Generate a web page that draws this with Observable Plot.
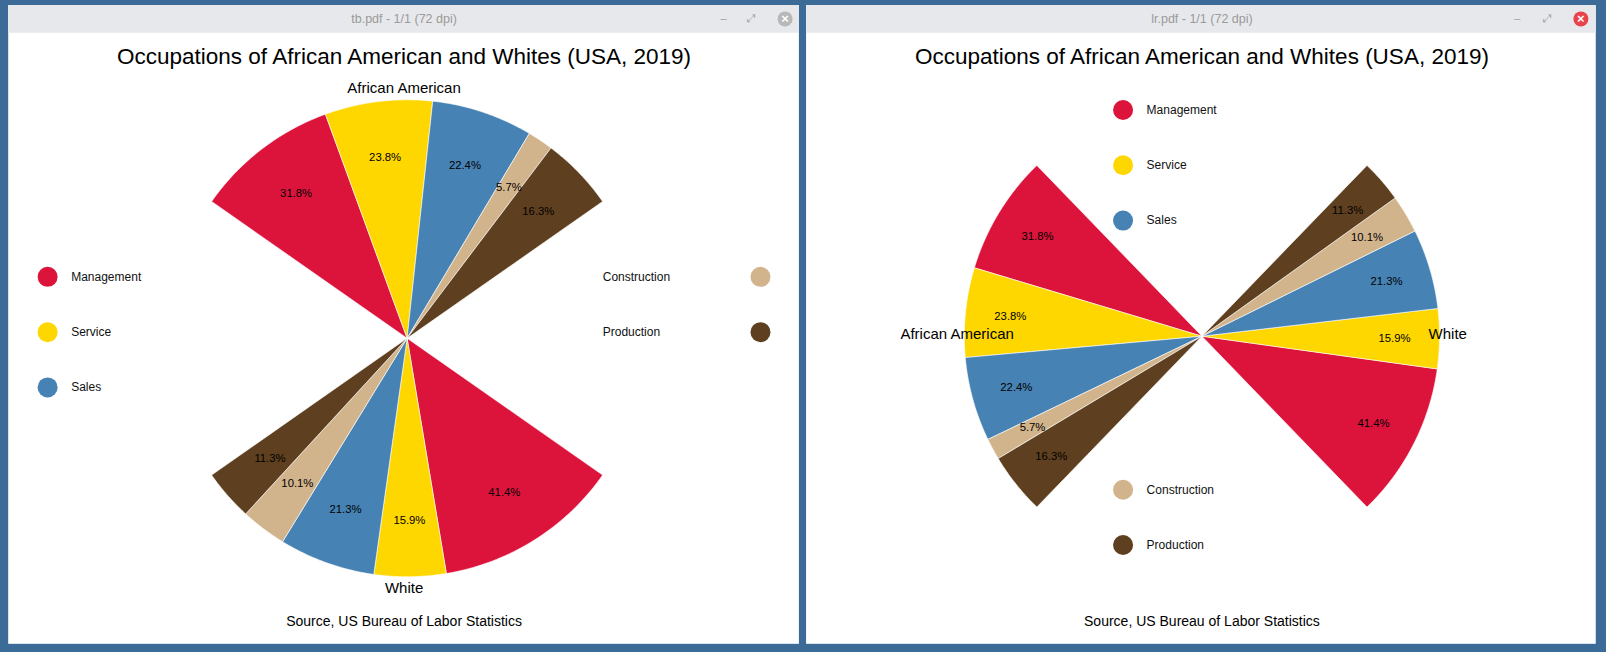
<!DOCTYPE html>
<html><head><meta charset="utf-8">
<script src="https://cdn.jsdelivr.net/npm/d3@7"></script>
<script src="https://cdn.jsdelivr.net/npm/@observablehq/plot@0.6"></script>
<style>body{margin:0;background:#3d6b98;overflow:hidden}</style>
</head><body><div id="chart"></div>
<script>
const categories = ["Management","Service","Sales","Construction","Production"];
const colors = ["#DC143C","#FFD700","#4682B4","#D2B48C","#5E3F1F"];
const aaValues = [31.8,23.8,22.4,5.7,16.3];
const whiteValues = [41.4,15.9,21.3,10.1,11.3];
const title = "Occupations of African American and Whites (USA, 2019)";
const source = "Source, US Bureau of Labor Statistics";

const rad = Math.PI/180;
// build wedges: start angle (deg clockwise from up), direction, span
function wedges(vals, cx, cy, R, start, dir, span, lr, tag){
  const polys = [], labels = [];
  let acc = 0;
  vals.forEach((v,i)=>{
    const a0 = start + dir*acc/100*span, a1 = start + dir*(acc+v)/100*span;
    const pts = [{x:cx,y:cy}];
    const n = 40;
    for(let k=0;k<=n;k++){const a=(a0+(a1-a0)*k/n)*rad; pts.push({x:cx+R*Math.sin(a), y:cy-R*Math.cos(a)});}
    pts.push({x:cx,y:cy});
    pts.forEach(p=>polys.push({...p, id:tag+i, c:colors[i]}));
    const am = (a0+a1)/2*rad;
    labels.push({x:cx+lr*Math.sin(am), y:cy-lr*Math.cos(am), t:v.toFixed(1)+"%"});
    acc += v;
  });
  return {polys, labels};
}
const L1 = wedges(aaValues, 397, 330, 233, -55, 1, 110, 178, "la");
const L2 = wedges(whiteValues, 397, 330, 233, 125, 1, 110, 178, "lw");
const R1 = wedges(aaValues, 1173, 328, 232, -44, -1, 92, 188, "ra");
const R2 = wedges(whiteValues, 1173, 328, 232, 136, -1, 92, 188, "rw");
const polys = [...L1.polys, ...L2.polys, ...R1.polys, ...R2.polys];
const pctLabels = [...L1.labels, ...L2.labels, ...R1.labels, ...R2.labels];

const windows = [{x1:8,x2:780,y1:5,y2:629},{x1:787,x2:1558,y1:5,y2:629}];
const bars = windows.map(w=>({...w, y2:32}));
const winTitles = [{x:394,y:18,t:"tb.pdf - 1/1 (72 dpi)"},{x:1173,y:18,t:"lr.pdf - 1/1 (72 dpi)"}];
const legend = [
  {x:46,y:270,i:0,tx:69,a:"start"},{x:46,y:324,i:1,tx:69,a:"start"},{x:46,y:378,i:2,tx:69,a:"start"},
  {x:742,y:270,i:3,tx:588,a:"start"},{x:742,y:324,i:4,tx:588,a:"start"},
  {x:1096,y:107,i:0,tx:1119,a:"start"},{x:1096,y:161,i:1,tx:1119,a:"start"},{x:1096,y:215,i:2,tx:1119,a:"start"},
  {x:1096,y:478,i:3,tx:1119,a:"start"},{x:1096,y:532,i:4,tx:1119,a:"start"}
];
const groupLabels = [
  {x:394,y:86,t:"African American",a:"middle"},{x:394,y:574,t:"White",a:"middle"},
  {x:934,y:326,t:"African American",a:"end"},{x:1413,y:326,t:"White",a:"start"}
];
const titles = [{x:394,y:55},{x:1173,y:55}];
const btns = [{x:706,y:18,t:"–"},{x:733,y:18,t:"⤢"},{x:1481,y:18,t:"–"},{x:1510,y:18,t:"⤢"}];
const closes = [{x:766,y:18,c:"#b8b8b8"},{x:1543,y:18,c:"#e8424a"}];

const ff = "Liberation Sans, Arial, sans-serif";
const chart = Plot.plot({
  width:1606, height:652, margin:0,
  x:{domain:[0,1568], range:[0,1606], axis:null},
  y:{domain:[0,637], range:[0,652], axis:null},
  style:{background:"#3d6b98", fontFamily:ff},
  marks:[
    Plot.rect(windows,{x1:"x1",x2:"x2",y1:"y1",y2:"y2",fill:"white"}),
    Plot.rect(bars,{x1:"x1",x2:"x2",y1:"y1",y2:"y2",fill:"#e7e8eb"}),
    Plot.text(winTitles,{x:"x",y:"y",text:"t",fill:"#9a9a9a",fontSize:12.5}),
    Plot.text(btns,{x:"x",y:"y",text:"t",fill:"#a0a0a0",fontSize:11}),
    Plot.dot(closes,{x:"x",y:"y",r:7.5,fill:"c"}),
    Plot.text(closes,{x:"x",y:"y",text:()=>"×",fill:"white",fontSize:13,fontWeight:"bold"}),
    Plot.line(polys,{x:"x",y:"y",z:"id",fill:"c",stroke:"white",strokeWidth:0.6,curve:"linear"}),
    Plot.text(pctLabels,{x:"x",y:"y",text:"t",fontSize:11.3,fill:"black"}),
    Plot.dot(legend,{x:"x",y:"y",r:10,fill:d=>colors[d.i]}),
    Plot.text(legend,{x:"tx",y:"y",text:d=>categories[d.i],textAnchor:"start",fontSize:12,fill:"#111"}),
    Plot.text(groupLabels,{x:"x",y:"y",text:"t",textAnchor:"a",fontSize:15,fill:"black"}),
    Plot.text(titles,{x:"x",y:"y",text:()=>title,fontSize:22.5,fill:"black"}),
    Plot.text(titles,{x:"x",y:()=>607,text:()=>source,fontSize:14,fill:"black"})
  ]
});
document.getElementById("chart").append(chart);
</script></body></html>
